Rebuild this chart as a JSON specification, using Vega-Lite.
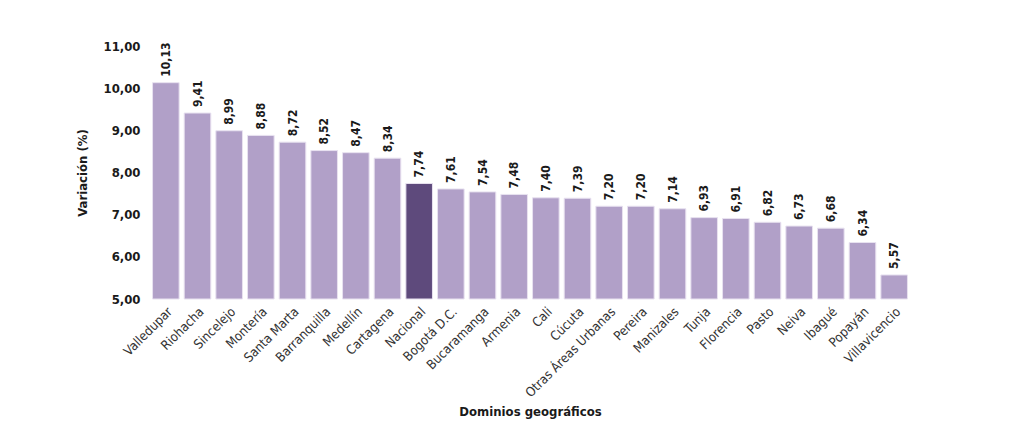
{
  "$schema": "https://vega.github.io/schema/vega-lite/v6.json",
  "width": 760,
  "height": 253,
  "autosize": "none",
  "padding": {"left": 150, "top": 46, "right": 114, "bottom": 134},
  "background": "white",
  "config": {
    "locale": {"number": {"decimal": ",", "thousands": ".", "grouping": [3], "currency": ["$", ""]}},
    "view": {"stroke": null},
    "font": "DejaVu Sans Condensed"
  },
  "data": {"values": [
    {"dominio": "Valledupar", "variacion": 10.13, "tipo": "ciudad"},
    {"dominio": "Riohacha", "variacion": 9.41, "tipo": "ciudad"},
    {"dominio": "Sincelejo", "variacion": 8.99, "tipo": "ciudad"},
    {"dominio": "Montería", "variacion": 8.88, "tipo": "ciudad"},
    {"dominio": "Santa Marta", "variacion": 8.72, "tipo": "ciudad"},
    {"dominio": "Barranquilla", "variacion": 8.52, "tipo": "ciudad"},
    {"dominio": "Medellín", "variacion": 8.47, "tipo": "ciudad"},
    {"dominio": "Cartagena", "variacion": 8.34, "tipo": "ciudad"},
    {"dominio": "Nacional", "variacion": 7.74, "tipo": "nacional"},
    {"dominio": "Bogotá D.C.", "variacion": 7.61, "tipo": "ciudad"},
    {"dominio": "Bucaramanga", "variacion": 7.54, "tipo": "ciudad"},
    {"dominio": "Armenia", "variacion": 7.48, "tipo": "ciudad"},
    {"dominio": "Cali", "variacion": 7.40, "tipo": "ciudad"},
    {"dominio": "Cúcuta", "variacion": 7.39, "tipo": "ciudad"},
    {"dominio": "Otras Áreas Urbanas", "variacion": 7.20, "tipo": "ciudad"},
    {"dominio": "Pereira", "variacion": 7.20, "tipo": "ciudad"},
    {"dominio": "Manizales", "variacion": 7.14, "tipo": "ciudad"},
    {"dominio": "Tunja", "variacion": 6.93, "tipo": "ciudad"},
    {"dominio": "Florencia", "variacion": 6.91, "tipo": "ciudad"},
    {"dominio": "Pasto", "variacion": 6.82, "tipo": "ciudad"},
    {"dominio": "Neiva", "variacion": 6.73, "tipo": "ciudad"},
    {"dominio": "Ibagué", "variacion": 6.68, "tipo": "ciudad"},
    {"dominio": "Popayán", "variacion": 6.34, "tipo": "ciudad"},
    {"dominio": "Villavicencio", "variacion": 5.57, "tipo": "ciudad"}
  ]},
  "encoding": {
    "x": {
      "field": "dominio", "type": "nominal", "sort": null,
      "scale": {"paddingInner": 0.16, "paddingOuter": 0.08},
      "axis": {
        "title": "Dominios geográficos", "titleFontSize": 13, "titleFontWeight": "bold", "titleColor": "#1a1a1a",
        "titlePadding": 6,
        "labelAngle": -45, "labelFontSize": 13, "labelColor": "#333333", "labelPadding": 6,
        "labelFont": "DejaVu Sans Condensed",
        "domain": false, "ticks": false
      }
    },
    "y": {
      "field": "variacion", "type": "quantitative",
      "scale": {"domain": [5, 11], "zero": false, "nice": false},
      "axis": {
        "title": "Variación (%)", "titleFontSize": 13, "titleFontWeight": "bold", "titleColor": "#1a1a1a",
        "titlePadding": 14,
        "values": [5, 6, 7, 8, 9, 10, 11], "format": ".2f",
        "labelFontSize": 13, "labelFontWeight": "bold", "labelColor": "#1a1a1a", "labelPadding": 10,
        "domain": false, "ticks": false, "grid": false
      }
    }
  },
  "layer": [
    {
      "mark": {"type": "bar", "stroke": "#e8e2f0", "strokeWidth": 1},
      "encoding": {
        "y2": {"datum": 5},
        "color": {
          "field": "tipo", "type": "nominal",
          "scale": {"domain": ["ciudad", "nacional"], "range": ["#b1a0c8", "#5e4a7c"]},
          "legend": null
        }
      }
    },
    {
      "mark": {"type": "text", "angle": -90, "align": "left", "baseline": "middle", "dx": 6, "fontSize": 12, "fontWeight": "bold", "color": "#1a1a1a"},
      "encoding": {
        "text": {"field": "variacion", "type": "quantitative", "format": ".2f"}
      }
    }
  ]
}
